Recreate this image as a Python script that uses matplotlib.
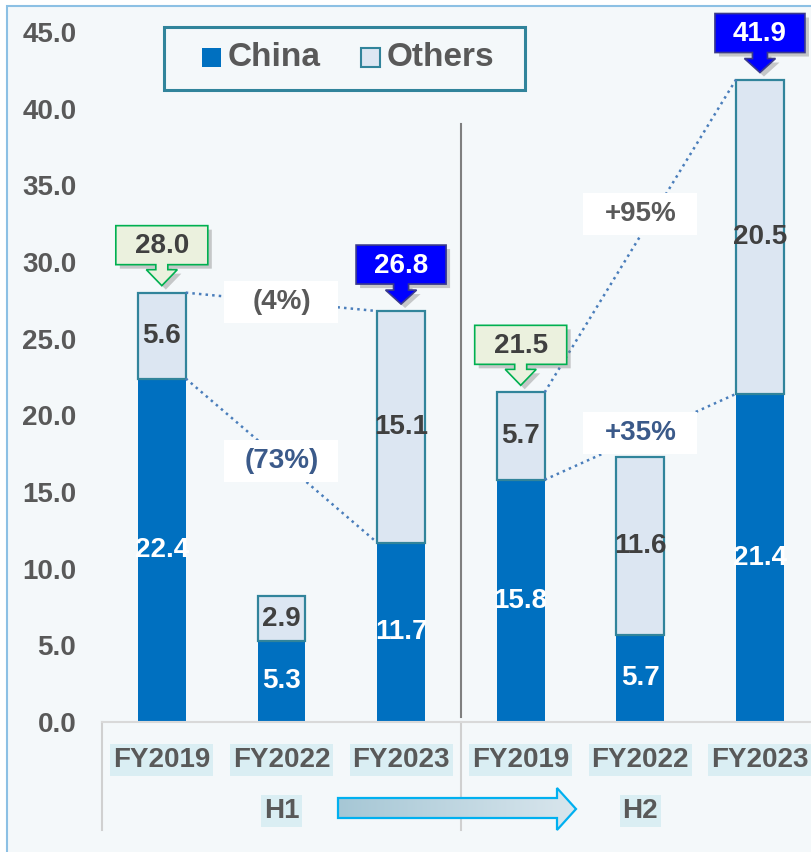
import numpy as np
import matplotlib
matplotlib.use('Agg')
import matplotlib.pyplot as plt
from matplotlib.patches import Polygon, Rectangle
from matplotlib.colors import LinearSegmentedColormap

plt.rcParams['font.family'] = ['Liberation Sans', 'DejaVu Sans']
plt.rcParams['font.weight'] = 'bold'

# data
years = ['FY2019', 'FY2022', 'FY2023', 'FY2019', 'FY2022', 'FY2023']
halves = ['H1', 'H2']
china = [22.4, 5.3, 11.7, 15.8, 5.7, 21.4]
others = [5.6, 2.9, 15.1, 5.7, 11.6, 20.5]
callout_bars = [0, 2, 3, 5]
callout_kind = ['green', 'blue', 'green', 'blue']
change_from = [0, 0, 3, 3]
change_to = [2, 2, 5, 5]
change_level = ['total', 'china', 'total', 'china']
change_text = ['(4%)', '(73%)', '+95%', '+35%']

totals = [round(c + o, 1) for c, o in zip(china, others)]

W, H = 812, 852
BG = '#f4f8fa'
GRAY = '#595959'
fig = plt.figure(figsize=(W / 100, H / 100), dpi=100, facecolor='white')

# background panel with thin blue border
bg = fig.add_axes([0, 0, 1, 1], zorder=-5)
bg.set_xlim(0, W)
bg.set_ylim(H, 0)
bg.axis('off')
bg.add_patch(Rectangle((7, 6), 900, 900, facecolor=BG, edgecolor='#8cc0e4', lw=1.5))

ax = fig.add_axes([102 / W, 130 / H, (W - 102) / W, 690 / H], facecolor='none')
x = np.arange(len(years))
bw = 0.40
ax.bar(x, china, bw, color='#0070c0', zorder=2)
ax.bar(x, others, bw, bottom=china, color='#dce6f2', edgecolor='#31849b', lw=1.6, zorder=2)

ax.set_xlim(-0.5, 5.435)
ax.set_ylim(0, 45)
ax.set_yticks(np.arange(0, 46, 5))
ax.set_yticklabels([f'{v:.1f}' for v in np.arange(0, 46, 5)], fontsize=20, color=GRAY, fontweight='bold')
ax.tick_params(axis='y', length=0, pad=18.5)
ax.set_xticks(x)
ax.set_xticklabels(years, fontsize=20, color=GRAY, fontweight='bold')
ax.tick_params(axis='x', length=0, pad=18)
for t in ax.get_xticklabels():
    t.set_bbox(dict(facecolor='#daeef3', edgecolor='none', pad=2))
for s in ['top', 'right', 'left']:
    ax.spines[s].set_visible(False)
ax.spines['bottom'].set_color('#d9d9d9')
ax.spines['bottom'].set_linewidth(1.5)

xt = ax.get_xaxis_transform()
for gx in [-0.5, 2.5]:
    ax.plot([gx, gx], [0, -0.157], transform=xt, color='#d0d0d0', lw=1.5, clip_on=False)
for k, h in enumerate(halves):
    ax.text(1 + 3 * k, -0.129, h, transform=xt, ha='center', va='center', fontsize=20,
            color=GRAY, fontweight='bold',
            bbox=dict(facecolor='#daeef3', edgecolor='none', pad=2))
ax.plot([2.5, 2.5], [0.3, 39.0], color='#7f7f7f', lw=1.5, zorder=1)

# values inside the bars
for i in x:
    ax.text(i, china[i] / 2, f'{china[i]:.1f}', ha='center', va='center', fontsize=20,
            color='white', fontweight='bold', zorder=3)
    ax.text(i, china[i] + others[i] / 2, f'{others[i]:.1f}', ha='center', va='center',
            fontsize=20, color='#404040', fontweight='bold', zorder=3)

# overlay in pixel coordinates for decorations
ov = fig.add_axes([0, 0, 1, 1], zorder=10)
ov.patch.set_alpha(0)
ov.axis('off')


def px(xv, yv):
    X, Y = ax.transData.transform((xv, yv))
    return X, H - Y


# dotted change connectors with labels
label_dy = {'+95%': 1.4, '+35%': 0.25}
for a, b, lev, txt in zip(change_from, change_to, change_level, change_text):
    ya = totals[a] if lev == 'total' else china[a]
    yb = totals[b] if lev == 'total' else china[b]
    ax.plot([a + bw / 2, b - bw / 2], [ya, yb], ls=':', color='#4a7ebb', lw=1.8, zorder=3)
    cx, cy = px((a + b) / 2, (ya + yb) / 2 + label_dy.get(txt, 0))
    ov.add_patch(Rectangle((cx - 57, cy - 21), 114, 42, facecolor='white', edgecolor='none', zorder=4))
    col = GRAY if lev == 'total' else '#3b5a8a'
    ov.text(cx, cy, txt, ha='center', va='center', fontsize=20, color=col, fontweight='bold', zorder=5)

# callout boxes with down arrows over the totals
styles = {
    'green': dict(bw=92, bh=39, sw=12, sl=5, hw=31, hh=16, fc='#ebf1de', ec='#00b050', tc='#404040'),
    'blue': dict(bw=90, bh=39, sw=15, sl=6, hw=31, hh=14, fc='#0000ff', ec='#3a3a8c', tc='white'),
}
for i, kind in zip(callout_bars, callout_kind):
    s = styles[kind]
    tx, ty = px(i, totals[i])
    ty -= 7
    yh = ty - s['hh']
    yb = yh - s['sl']
    yt = yb - s['bh']
    pts = [(tx - s['bw'] / 2, yt), (tx + s['bw'] / 2, yt), (tx + s['bw'] / 2, yb),
           (tx + s['sw'] / 2, yb), (tx + s['sw'] / 2, yh), (tx + s['hw'] / 2, yh),
           (tx, ty), (tx - s['hw'] / 2, yh), (tx - s['sw'] / 2, yh),
           (tx - s['sw'] / 2, yb), (tx - s['bw'] / 2, yb)]
    shadow = [(p[0] + 4, p[1] + 4) for p in pts]
    ov.add_patch(Polygon(shadow, closed=True, facecolor='#7f7f7f', edgecolor='none', alpha=0.4, zorder=5))
    ov.add_patch(Polygon(pts, closed=True, facecolor=s['fc'], edgecolor=s['ec'], lw=1.2, zorder=6))
    ov.text(tx, (yt + yb) / 2 + 1, f'{totals[i]:.1f}', ha='center', va='center', fontsize=20,
            color=s['tc'], fontweight='bold', zorder=7)

# legend
ov.add_patch(Rectangle((164, 27), 361, 63, facecolor=BG, edgecolor='#31849b', lw=2.2, zorder=6))
ov.add_patch(Rectangle((202, 48), 19, 19, facecolor='#0070c0', edgecolor='none', zorder=7))
ov.text(228, 58, 'China', ha='left', va='center', fontsize=24, color=GRAY, fontweight='bold', zorder=7)
ov.add_patch(Rectangle((361, 48), 19, 19, facecolor='#dce6f2', edgecolor='#31849b', lw=1.5, zorder=7))
ov.text(387, 58, 'Others', ha='left', va='center', fontsize=24, color=GRAY, fontweight='bold', zorder=7)

# H1 -> H2 arrow
verts = [(338, 798), (557, 798), (557, 788), (576, 809), (557, 830), (557, 818), (338, 818)]
arrow = Polygon(verts, closed=True, facecolor='none', edgecolor='#00b0f0', lw=1.6, zorder=6)
ov.add_patch(arrow)
grad = np.linspace(0, 1, 256).reshape(1, -1)
cmap = LinearSegmentedColormap.from_list('g', ['#a6c7d5', '#d9e6ed'])
im = ov.imshow(grad, cmap=cmap, extent=(338, 576, 830, 788), aspect='auto', zorder=5)
im.set_clip_path(arrow)

ov.set_xlim(0, W)
ov.set_ylim(H, 0)

fig.savefig('out.png', dpi=100, facecolor='white')
